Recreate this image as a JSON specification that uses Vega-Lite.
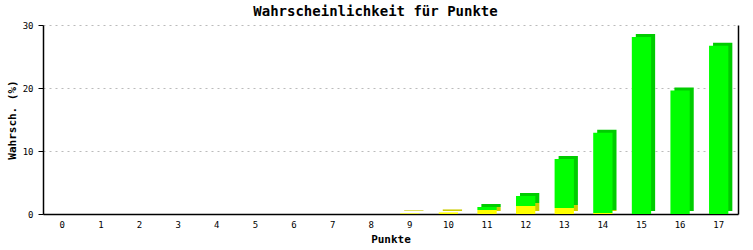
{
  "$schema": "https://vega.github.io/schema/vega-lite/v6.json",
  "width": 695,
  "height": 189,
  "autosize": {"type": "none"},
  "padding": {"left": 43, "top": 25, "right": 15, "bottom": 36},
  "background": "white",
  "title": {
    "text": "Wahrscheinlichkeit für Punkte",
    "font": "DejaVu Sans Mono",
    "fontSize": 14,
    "fontWeight": "bold",
    "color": "black",
    "frame": "group",
    "anchor": "middle",
    "offset": 2,
    "dx": -15
  },
  "config": {
    "view": {"stroke": null},
    "font": "DejaVu Sans Mono",
    "axis": {
      "labelFont": "DejaVu Sans Mono",
      "titleFont": "DejaVu Sans Mono",
      "labelColor": "black",
      "titleColor": "black",
      "domainColor": "black",
      "tickColor": "black"
    }
  },
  "data": {
    "values": [
      {"Punkte": 0, "Teil": "Teil 2", "Wert": 0},
      {"Punkte": 1, "Teil": "Teil 2", "Wert": 0},
      {"Punkte": 2, "Teil": "Teil 2", "Wert": 0},
      {"Punkte": 3, "Teil": "Teil 2", "Wert": 0},
      {"Punkte": 4, "Teil": "Teil 2", "Wert": 0},
      {"Punkte": 5, "Teil": "Teil 2", "Wert": 0},
      {"Punkte": 6, "Teil": "Teil 2", "Wert": 0},
      {"Punkte": 7, "Teil": "Teil 2", "Wert": 0},
      {"Punkte": 8, "Teil": "Teil 2", "Wert": 0},
      {"Punkte": 9, "Teil": "Teil 2", "Wert": 0},
      {"Punkte": 10, "Teil": "Teil 2", "Wert": 0},
      {"Punkte": 11, "Teil": "Teil 2", "Wert": 0.48},
      {"Punkte": 12, "Teil": "Teil 2", "Wert": 1.59},
      {"Punkte": 13, "Teil": "Teil 2", "Wert": 7.78},
      {"Punkte": 14, "Teil": "Teil 2", "Wert": 12.74},
      {"Punkte": 15, "Teil": "Teil 2", "Wert": 28.1},
      {"Punkte": 16, "Teil": "Teil 2", "Wert": 19.6},
      {"Punkte": 17, "Teil": "Teil 2", "Wert": 26.7},
      {"Punkte": 0, "Teil": "Teil 1", "Wert": 0},
      {"Punkte": 1, "Teil": "Teil 1", "Wert": 0},
      {"Punkte": 2, "Teil": "Teil 1", "Wert": 0},
      {"Punkte": 3, "Teil": "Teil 1", "Wert": 0},
      {"Punkte": 4, "Teil": "Teil 1", "Wert": 0},
      {"Punkte": 5, "Teil": "Teil 1", "Wert": 0},
      {"Punkte": 6, "Teil": "Teil 1", "Wert": 0},
      {"Punkte": 7, "Teil": "Teil 1", "Wert": 0},
      {"Punkte": 8, "Teil": "Teil 1", "Wert": 0},
      {"Punkte": 9, "Teil": "Teil 1", "Wert": 0.1},
      {"Punkte": 10, "Teil": "Teil 1", "Wert": 0.25},
      {"Punkte": 11, "Teil": "Teil 1", "Wert": 0.63},
      {"Punkte": 12, "Teil": "Teil 1", "Wert": 1.27},
      {"Punkte": 13, "Teil": "Teil 1", "Wert": 0.95},
      {"Punkte": 14, "Teil": "Teil 1", "Wert": 0.16},
      {"Punkte": 15, "Teil": "Teil 1", "Wert": 0},
      {"Punkte": 16, "Teil": "Teil 1", "Wert": 0},
      {"Punkte": 17, "Teil": "Teil 1", "Wert": 0}
    ]
  },
  "encoding": {
    "x": {
      "field": "Punkte",
      "type": "ordinal",
      "scale": {"paddingInner": 0.5, "paddingOuter": 0.25},
      "axis": {
        "title": "Punkte",
        "labelAngle": 0,
        "labelFontSize": 9,
        "labelPadding": 6,
        "ticks": false,
        "domainWidth": 1.5,
        "titleFontSize": 11,
        "titleFontWeight": "bold",
        "titlePadding": 4
      }
    }
  },
  "layer": [
    {
      "transform": [{"filter": "datum.Wert > 0"}],
      "mark": {"type": "bar", "xOffset": 4, "yOffset": -3, "y2Offset": 0},
      "encoding": {
        "y": {
          "field": "Wert",
          "type": "quantitative",
          "stack": "zero",
          "scale": {"domain": [0, 30]},
          "axis": {
            "orient": "right",
            "labels": false,
            "ticks": false,
            "grid": false,
            "title": null,
            "domainWidth": 1.5
          }
        },
        "order": {"field": "Teil", "sort": "ascending"},
        "color": {
          "field": "Teil",
          "type": "nominal",
          "scale": {"domain": ["Teil 1", "Teil 2"], "range": ["#cccc00", "#00cc00"]},
          "legend": null
        }
      }
    },
    {
      "mark": {"type": "bar"},
      "encoding": {
        "y": {
          "field": "Wert",
          "type": "quantitative",
          "stack": "zero",
          "scale": {"domain": [0, 30]},
          "axis": {
            "title": "Wahrsch. (%)",
            "values": [0, 10, 20, 30],
            "labelFontSize": 9,
            "labelPadding": 5,
            "tickSize": 5,
            "domainWidth": 1.5,
            "titleFontSize": 11,
            "titleFontWeight": "bold",
            "titlePadding": 5,
            "grid": true,
            "gridColor": "#bbbbbb",
            "gridDash": [2, 4]
          }
        },
        "order": {"field": "Teil", "sort": "ascending"},
        "color": {
          "field": "Teil",
          "type": "nominal",
          "scale": {"domain": ["Teil 1", "Teil 2"], "range": ["#ffff00", "#00ff00"]},
          "legend": null
        }
      }
    }
  ],
  "resolve": {"scale": {"color": "independent"}, "axis": {"y": "independent"}}
}
